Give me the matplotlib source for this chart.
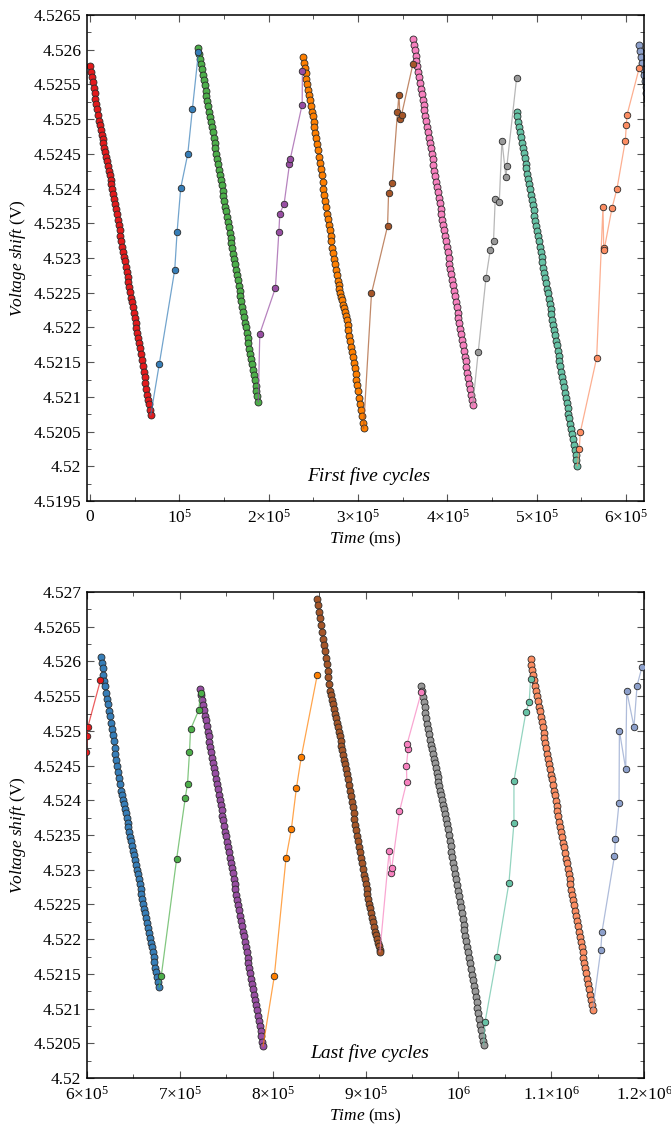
import math
import matplotlib
matplotlib.use('Agg')
import matplotlib.pyplot as plt
from matplotlib.ticker import MultipleLocator, FuncFormatter

# ---------------- data (time in s, voltage in V) ----------------
d1_t = [0,1,2,3,4,5,6,7,8,9,10,11,12,13,14,15,16,17,18,19,20,21,22,23,24,25,26,27,28,29,
        30,31,32,33,34,35,36,37,38,39,40,41,42,43,44,45,46,47,48,49,50,51,52,53,54,55,56,57,58,59,
        60,61,62,63,64,65,66,67,68]
d1_v = [4.52576,4.52568,4.52560,4.52553,4.52545,4.52537,4.52529,4.52522,4.52514,4.52506,
        4.52498,4.52491,4.52484,4.52477,4.52471,4.52465,4.52458,4.52452,4.52445,4.52439,
        4.52432,4.52426,4.52420,4.52413,4.52406,4.52399,4.52392,4.52385,4.52378,4.52370,
        4.52363,4.52355,4.52347,4.52340,4.52332,4.52324,4.52316,4.52309,4.52302,4.52295,
        4.52287,4.52280,4.52273,4.52265,4.52258,4.52251,4.52243,4.52236,4.52229,4.52221,
        4.52214,4.52207,4.52199,4.52192,4.52185,4.52177,4.52170,4.52162,4.52153,4.52145,
        4.52136,4.52128,4.52120,4.52111,4.52103,4.52096,4.52089,4.52081,4.52074]
r1_t = [77.6,94.8,97.4,101.5,109.4,114.6,121.3]
r1_v = [4.52148,4.52283,4.52337,4.52401,4.52450,4.52515,4.52596]

d2_t = [121.3,122.3,123.3,124.3,125.3,126.3,127.3,128.3,129.3,130.3,131.3,132.3,133.3,134.3,135.3,
        136.3,137.3,138.3,139.3,140.3,141.3,142.3,143.3,144.3,145.3,146.3,147.3,148.3,149.3,150.3,
        151.3,152.3,153.3,154.3,155.3,156.3,157.3,158.3,159.3,160.3,161.3,162.3,163.3,164.3,165.3,
        166.3,167.3,168.3,169.3,170.3,171.3,172.3,173.3,174.3,175.3,176.3,177.3,178.3,179.3,180.3,
        181.3,182.3,183.3,184.3,185.3,186.3,187.3,188.3]
d2_v = [4.52602,4.52594,4.52587,4.52579,4.52572,4.52564,4.52556,4.52549,4.52541,4.52534,
        4.52526,4.52519,4.52511,4.52503,4.52496,4.52488,4.52481,4.52473,4.52466,4.52458,
        4.52450,4.52443,4.52435,4.52427,4.52420,4.52412,4.52405,4.52397,4.52389,4.52382,
        4.52374,4.52367,4.52359,4.52352,4.52344,4.52336,4.52329,4.52321,4.52314,4.52306,
        4.52298,4.52291,4.52283,4.52276,4.52268,4.52260,4.52253,4.52245,4.52238,4.52230,
        4.52222,4.52215,4.52207,4.52200,4.52192,4.52185,4.52177,4.52169,4.52162,4.52154,
        4.52147,4.52139,4.52131,4.52124,4.52116,4.52109,4.52101,4.52093]
r2_t = [190.0,207.5,211.3,212.4,217.2,223.2,224.0,237.4,237.7]
r2_v = [4.52191,4.52257,4.52337,4.52364,4.52378,4.52435,4.52442,4.52521,4.52569]

d3_t = [238.2,239.2,240.2,241.2,242.2,243.2,244.2,245.2,246.2,247.2,248.2,249.2,250.2,251.2,252.2,
        253.2,254.2,255.2,256.2,257.2,258.2,259.2,260.2,261.2,262.2,263.2,264.2,265.2,266.2,267.2,
        268.2,269.2,270.2,271.2,272.2,273.2,274.2,275.2,276.2,277.2,278.2,279.2,280.2,281.2,282.2,
        283.2,284.2,285.2,286.2,287.2,288.2,289.2,290.2,291.2,292.2,293.2,294.2,295.2,296.2,297.2,
        298.2,299.2,300.2,301.2,302.2,303.2,304.2,305.2,306.1]
d3_v = [4.52589,4.52581,4.52573,4.52566,4.52558,4.52550,4.52542,4.52535,4.52527,4.52519,
        4.52511,4.52504,4.52496,4.52488,4.52480,4.52473,4.52464,4.52455,4.52446,4.52437,
        4.52428,4.52419,4.52409,4.52400,4.52391,4.52382,4.52373,4.52364,4.52356,4.52348,
        4.52340,4.52332,4.52324,4.52315,4.52307,4.52299,4.52291,4.52283,4.52275,4.52267,
        4.52261,4.52255,4.52250,4.52244,4.52239,4.52233,4.52228,4.52222,4.52216,4.52211,
        4.52204,4.52196,4.52188,4.52180,4.52172,4.52164,4.52157,4.52149,4.52141,4.52133,
        4.52125,4.52117,4.52108,4.52099,4.52090,4.52081,4.52072,4.52063,4.52055]
r3_t = [315.0,333.0,334.1,338.2,344.1,345.7,347.1,348.6,361.3]
r3_v = [4.52249,4.52346,4.52393,4.52408,4.52510,4.52535,4.52500,4.52506,4.52579]

d4_t = [361.3,362.3,363.3,364.3,365.3,366.3,367.3,368.3,369.3,370.3,371.3,372.3,373.3,374.3,375.3,
        376.3,377.3,378.3,379.3,380.3,381.3,382.3,383.3,384.3,385.3,386.3,387.3,388.3,389.3,390.3,
        391.3,392.3,393.3,394.3,395.3,396.3,397.3,398.3,399.3,400.3,401.3,402.3,403.3,404.3,405.3,
        406.3,407.3,408.3,409.3,410.3,411.3,412.3,413.3,414.3,415.3,416.3,417.3,418.3,419.3,420.3,
        421.3,422.3,423.3,424.3,425.3,426.3,427.3,428.3]
d4_v = [4.52615,4.52607,4.52599,4.52591,4.52584,4.52576,4.52568,4.52560,4.52552,4.52544,
        4.52536,4.52528,4.52521,4.52513,4.52505,4.52497,4.52489,4.52481,4.52473,4.52465,
        4.52458,4.52450,4.52442,4.52434,4.52426,4.52418,4.52410,4.52402,4.52395,4.52387,
        4.52379,4.52371,4.52363,4.52355,4.52347,4.52340,4.52332,4.52324,4.52316,4.52308,
        4.52300,4.52292,4.52284,4.52277,4.52269,4.52261,4.52253,4.52245,4.52237,4.52229,
        4.52221,4.52214,4.52206,4.52198,4.52190,4.52182,4.52174,4.52166,4.52158,4.52151,
        4.52143,4.52135,4.52127,4.52119,4.52111,4.52103,4.52095,4.52088]
r4_t = [434.5,443.1,447.9,451.6,453.5,458.0,461.0,465.5,466.6,477.4]
r4_v = [4.52165,4.52271,4.52311,4.52325,4.52385,4.52380,4.52469,4.52416,4.52433,4.52559]

d5_t = [477.4,478.4,479.4,480.4,481.4,482.4,483.4,484.4,485.4,486.4,487.4,488.4,489.4,490.4,491.4,
        492.4,493.4,494.4,495.4,496.4,497.4,498.4,499.4,500.4,501.4,502.4,503.4,504.4,505.4,506.4,
        507.4,508.4,509.4,510.4,511.4,512.4,513.4,514.4,515.4,516.4,517.4,518.4,519.4,520.4,521.4,
        522.4,523.4,524.4,525.4,526.4,527.4,528.4,529.4,530.4,531.4,532.4,533.4,534.4,535.4,536.4,
        537.4,538.4,539.4,540.4,541.4,542.4,543.4,544.4,545.4]
d5_v = [4.52511,4.52504,4.52496,4.52489,4.52481,4.52474,4.52466,4.52459,4.52451,4.52444,
        4.52436,4.52429,4.52421,4.52414,4.52406,4.52399,4.52391,4.52384,4.52376,4.52369,
        4.52361,4.52354,4.52346,4.52339,4.52331,4.52324,4.52316,4.52309,4.52301,4.52294,
        4.52286,4.52279,4.52271,4.52264,4.52256,4.52249,4.52241,4.52234,4.52226,4.52219,
        4.52211,4.52204,4.52196,4.52189,4.52181,4.52174,4.52166,4.52159,4.52151,4.52144,
        4.52136,4.52129,4.52121,4.52114,4.52106,4.52099,4.52091,4.52084,4.52076,4.52069,
        4.52061,4.52054,4.52046,4.52039,4.52031,4.52024,4.52016,4.52009,4.52001]
r5_t = [547.6,548.7,567.0,574.1,574.9,575.4,584.2,589.8,599.1,600.2,601.0,614.5]
r5_v = [4.52025,4.52049,4.52156,4.52374,4.52314,4.52312,4.52372,4.52400,4.52469,4.52492,4.52506,4.52573]

d6_t = [614.7,615.7,616.7,617.7,618.7,619.7,620.7,621.7,622.7,623.7,624.7,625.7,626.7,627.7,628.7,
        629.7,630.7,631.7,632.7,633.7,634.7,635.7,636.7,637.7,638.7,639.7,640.7,641.7,642.7,643.7,
        644.7,645.7,646.7,647.7,648.7,649.7,650.7,651.7,652.7,653.7,654.7,655.7,656.7,657.7,658.7,
        659.7,660.7,661.7,662.7,663.7,664.7,665.7,666.7,667.7,668.7,669.7,670.7,671.7,672.7,673.7,
        674.7,675.7,676.7,677.7]
d6_v = [4.52607,4.52598,4.52590,4.52581,4.52572,4.52564,4.52555,4.52546,4.52538,4.52529,
        4.52521,4.52512,4.52503,4.52494,4.52485,4.52476,4.52467,4.52458,4.52450,4.52441,
        4.52432,4.52423,4.52414,4.52408,4.52401,4.52394,4.52388,4.52381,4.52374,4.52368,
        4.52361,4.52354,4.52347,4.52341,4.52334,4.52327,4.52321,4.52314,4.52307,4.52300,
        4.52294,4.52287,4.52280,4.52272,4.52265,4.52258,4.52251,4.52244,4.52237,4.52230,
        4.52223,4.52216,4.52209,4.52202,4.52195,4.52188,4.52181,4.52174,4.52167,4.52159,
        4.52152,4.52145,4.52138,4.52131]
r6_t = [680.0,696.5,705.8,708.3,710.4,711.5,720.4,722.3]
r6_v = [4.52147,4.52315,4.52403,4.52424,4.52469,4.52502,4.52530,4.52555]

d7_t = [721.9,722.9,723.9,724.9,725.9,726.9,727.9,728.9,729.9,730.9,731.9,732.9,733.9,734.9,735.9,
        736.9,737.9,738.9,739.9,740.9,741.9,742.9,743.9,744.9,745.9,746.9,747.9,748.9,749.9,750.9,
        751.9,752.9,753.9,754.9,755.9,756.9,757.9,758.9,759.9,760.9,761.9,762.9,763.9,764.9,765.9,
        766.9,767.9,768.9,769.9,770.9,771.9,772.9,773.9,774.9,775.9,776.9,777.9,778.9,779.9,780.9,
        781.9,782.9,783.9,784.9,785.9,786.9,787.9,788.9,789.7]
d7_v = [4.52560,4.52552,4.52545,4.52537,4.52530,4.52522,4.52515,4.52507,4.52499,4.52492,
        4.52484,4.52477,4.52469,4.52461,4.52454,4.52446,4.52439,4.52431,4.52424,4.52416,
        4.52408,4.52401,4.52393,4.52386,4.52378,4.52371,4.52363,4.52355,4.52348,4.52340,
        4.52333,4.52325,4.52317,4.52310,4.52302,4.52295,4.52287,4.52280,4.52272,4.52264,
        4.52257,4.52249,4.52242,4.52234,4.52226,4.52219,4.52211,4.52204,4.52196,4.52189,
        4.52181,4.52173,4.52166,4.52158,4.52151,4.52143,4.52136,4.52128,4.52120,4.52113,
        4.52105,4.52098,4.52090,4.52082,4.52075,4.52067,4.52060,4.52052,4.52046]
r7_t = [801.8,814.4,820.1,825.5,830.9,848.1]
r7_v = [4.52147,4.52317,4.52358,4.52417,4.52463,4.52581]

d8_t = [848.1,849.1,850.1,851.1,852.1,853.1,854.1,855.1,856.1,857.1,858.1,859.1,860.1,861.1,862.1,
        863.1,864.1,865.1,866.1,867.1,868.1,869.1,870.1,871.1,872.1,873.1,874.1,875.1,876.1,877.1,
        878.1,879.1,880.1,881.1,882.1,883.1,884.1,885.1,886.1,887.1,888.1,889.1,890.1,891.1,892.1,
        893.1,894.1,895.1,896.1,897.1,898.1,899.1,900.1,901.1,902.1,903.1,904.1,905.1,906.1,907.1,
        908.1,909.1,910.1,911.1,912.1,913.1,914.1,915.1,915.5]
d8_v = [4.52690,4.52681,4.52671,4.52662,4.52652,4.52643,4.52633,4.52624,4.52615,4.52605,
        4.52596,4.52586,4.52577,4.52568,4.52558,4.52552,4.52545,4.52538,4.52532,4.52525,
        4.52518,4.52512,4.52505,4.52498,4.52492,4.52485,4.52478,4.52472,4.52465,4.52458,
        4.52452,4.52445,4.52438,4.52430,4.52422,4.52414,4.52406,4.52398,4.52390,4.52381,
        4.52373,4.52365,4.52357,4.52349,4.52341,4.52333,4.52325,4.52317,4.52309,4.52301,
        4.52293,4.52286,4.52279,4.52272,4.52265,4.52258,4.52251,4.52245,4.52238,4.52231,
        4.52224,4.52217,4.52211,4.52206,4.52200,4.52195,4.52190,4.52184,4.52182]
r8_t = [925.5,927.6,928.4,936.6,944.5,944.1,945.9,944.8,960.2]
r8_v = [4.52327,4.52295,4.52303,4.52384,4.52427,4.52450,4.52474,4.52481,4.52556]

d9_t = [959.6,960.6,961.6,962.6,963.6,964.6,965.6,966.6,967.6,968.6,969.6,970.6,971.6,972.6,973.6,
        974.6,975.6,976.6,977.6,978.6,979.6,980.6,981.6,982.6,983.6,984.6,985.6,986.6,987.6,988.6,
        989.6,990.6,991.6,992.6,993.6,994.6,995.6,996.6,997.6,998.6,999.6,1000.6,1001.6,1002.6,1003.6,
        1004.6,1005.6,1006.6,1007.6,1008.6,1009.6,1010.6,1011.6,1012.6,1013.6,1014.6,1015.6,1016.6,
        1017.6,1018.6,1019.6,1020.6,1021.6,1022.6,1023.6,1024.6,1025.6,1026.6,1027.3]
d9_v = [4.52565,4.52557,4.52549,4.52542,4.52534,4.52526,4.52518,4.52510,4.52503,4.52495,
        4.52487,4.52480,4.52474,4.52467,4.52460,4.52454,4.52447,4.52440,4.52433,4.52427,
        4.52420,4.52413,4.52407,4.52400,4.52393,4.52387,4.52380,4.52373,4.52366,4.52358,
        4.52350,4.52342,4.52334,4.52326,4.52318,4.52310,4.52302,4.52294,4.52286,4.52278,
        4.52270,4.52262,4.52254,4.52246,4.52238,4.52229,4.52221,4.52213,4.52205,4.52197,
        4.52189,4.52181,4.52173,4.52165,4.52157,4.52149,4.52141,4.52133,4.52125,4.52117,
        4.52109,4.52101,4.52093,4.52085,4.52077,4.52069,4.52061,4.52053,4.52048]
r9_t = [1028.7,1041.3,1054.5,1059.9,1059.9,1072.8,1076.3,1077.8]
r9_v = [4.52080,4.52174,4.52281,4.52367,4.52428,4.52527,4.52541,4.52574]

d10_t = [1077.8,1078.8,1079.8,1080.8,1081.8,1082.8,1083.8,1084.8,1085.8,1086.8,1087.8,1088.8,1089.8,
         1090.8,1091.8,1092.8,1093.8,1094.8,1095.8,1096.8,1097.8,1098.8,1099.8,1100.8,1101.8,1102.8,
         1103.8,1104.8,1105.8,1106.8,1107.8,1108.8,1109.8,1110.8,1111.8,1112.8,1113.8,1114.8,1115.8,
         1116.8,1117.8,1118.8,1119.8,1120.8,1121.8,1122.8,1123.8,1124.8,1125.8,1126.8,1127.8,1128.8,
         1129.8,1130.8,1131.8,1132.8,1133.8,1134.8,1135.8,1136.8,1137.8,1138.8,1139.8,1140.8,1141.8,
         1142.8,1143.8,1144.8]
d10_v = [4.52603,4.52595,4.52588,4.52580,4.52573,4.52565,4.52558,4.52550,4.52543,4.52535,
         4.52528,4.52520,4.52513,4.52505,4.52497,4.52490,4.52482,4.52475,4.52467,4.52460,
         4.52452,4.52445,4.52437,4.52430,4.52422,4.52414,4.52407,4.52399,4.52392,4.52384,
         4.52377,4.52369,4.52362,4.52354,4.52347,4.52339,4.52332,4.52324,4.52316,4.52309,
         4.52301,4.52294,4.52286,4.52279,4.52271,4.52264,4.52256,4.52249,4.52241,4.52234,
         4.52226,4.52219,4.52211,4.52203,4.52196,4.52188,4.52181,4.52173,4.52166,4.52158,
         4.52151,4.52143,4.52136,4.52128,4.52120,4.52113,4.52105,4.52098]
r10_t = [1153.4,1154.8,1168.2,1169.2,1173.1,1173.5,1180.3,1181.4,1189.2,1192.5,1197.8]
r10_v = [4.52184,4.52211,4.52320,4.52344,4.52396,4.52500,4.52445,4.52557,4.52506,4.52565,4.52592]

palette = ['#e41a1c', '#377eb8', '#4daf4a', '#984ea3', '#ff7f00', '#a65628',
           '#f781bf', '#999999', '#66c2a5', '#fc8d62', '#8da0cb']

# ---------------- style ----------------
plt.rcParams['font.family'] = ['Liberation Serif', 'DejaVu Serif']
plt.rcParams['mathtext.fontset'] = 'custom'
plt.rcParams['mathtext.rm'] = 'Liberation Serif'
plt.rcParams['mathtext.it'] = 'Liberation Serif:italic'
plt.rcParams['axes.linewidth'] = 1.1

declines = [(d1_t, d1_v), (d2_t, d2_v), (d3_t, d3_v), (d4_t, d4_v), (d5_t, d5_v),
            (d6_t, d6_v), (d7_t, d7_v), (d8_t, d8_v), (d9_t, d9_v), (d10_t, d10_v)]
rises = [(r1_t, r1_v), (r2_t, r2_v), (r3_t, r3_v), (r4_t, r4_v), (r5_t, r5_v),
         (r6_t, r6_v), (r7_t, r7_v), (r8_t, r8_v), (r9_t, r9_v), (r10_t, r10_v)]

# ordered list of segments: (kind, t, v, previous segment end)
segments = []
for i in range(10):
    dt, dv = declines[i]
    segments.append(('d', dt, dv, None))
    rt, rv = rises[i]
    segments.append(('r', rt, rv, (dt[-1], dv[-1])))

MS_D = 5.0
MS_R = 4.7
EDGE = '#2a2a2a'


def draw(ax, segs):
    for i, (kind, t, v, prev) in enumerate(segs):
        c = palette[i % len(palette)]
        tm = [x * 1000 for x in t]
        if kind == 'd':
            ax.plot(tm, v, '-', color=c, lw=0.8, marker='o', ms=MS_D, mfc=c,
                    mec=EDGE, mew=0.6, zorder=2)
        else:
            lt = [prev[0] * 1000] + tm
            lv = [prev[1]] + list(v)
            ax.plot(lt, lv, '-', color=c, lw=0.9, alpha=0.7, zorder=3)
            ax.plot(tm, v, 'o', ms=MS_R, mfc=c, mec=EDGE, mew=0.6, zorder=4)


def yfmt(v, pos):
    s = '%.4f' % v
    return s.rstrip('0').rstrip('.')


def xfmt(v, pos):
    if abs(v) < 1e-6:
        return '0'
    e = int(math.floor(math.log10(abs(v)) + 1e-9))
    m = round(v / 10 ** e, 3)
    if abs(m - 1) < 1e-6:
        return '10$^{%d}$' % e
    ms = ('%g' % m)
    return ms + '\u00d710$^{%d}$' % e


def style(ax, ylo, yhi, xlo, xhi):
    ax.set_xlim(xlo, xhi)
    ax.set_ylim(ylo, yhi)
    ax.xaxis.set_major_locator(MultipleLocator(100000))
    ax.xaxis.set_minor_locator(MultipleLocator(50000))
    ax.yaxis.set_major_locator(MultipleLocator(0.0005))
    ax.yaxis.set_minor_locator(MultipleLocator(0.00025))
    ax.xaxis.set_major_formatter(FuncFormatter(xfmt))
    ax.yaxis.set_major_formatter(FuncFormatter(yfmt))
    ax.tick_params(which='both', direction='in', top=True, right=True,
                   color='#555555', labelsize=12.5)
    ax.tick_params(which='major', length=5, width=0.8)
    ax.tick_params(which='minor', length=2.8, width=0.7)
    ax.tick_params(axis='x', pad=5.5)
    ax.tick_params(axis='y', pad=4)
    ax.set_xlabel(r'$\mathit{Time}$ (ms)', fontsize=12.5, labelpad=2)
    ax.set_ylabel(r'$\mathit{Voltage\ shift}$ (V)', fontsize=12.5, labelpad=4)


fig = plt.figure(figsize=(6.71, 11.27), dpi=100)
ax1 = fig.add_axes([87 / 671, 1 - 501 / 1127, 557 / 671, 486 / 1127])
ax2 = fig.add_axes([87 / 671, 1 - 1078 / 1127, 557 / 671, 486 / 1127])

draw(ax1, segments[0:11])
style(ax1, 4.5195, 4.5265, -3400, 620000)
ax1.text(0.505, 0.051, 'First five cycles', transform=ax1.transAxes,
         ha='center', va='center', fontsize=14, style='italic')

draw(ax2, segments[9:20])
style(ax2, 4.52, 4.527, 600000, 1200000)
ax2.text(0.508, 0.051, 'Last five cycles', transform=ax2.transAxes,
         ha='center', va='center', fontsize=14, style='italic')

fig.savefig('out.png', dpi=100)
